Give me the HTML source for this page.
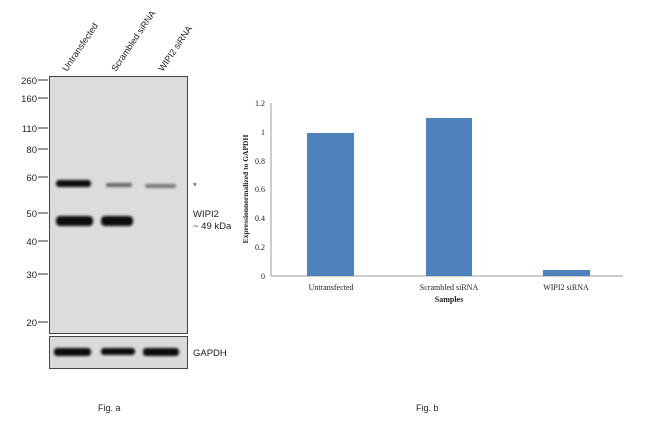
<!DOCTYPE html>
<html><head><style>body{margin:0;background:#fff}svg{display:block}</style></head><body>
<svg width="650" height="442" viewBox="0 0 650 442" xmlns="http://www.w3.org/2000/svg">
<defs>
<filter id="b" x="-20%" y="-100%" width="140%" height="300%"><feGaussianBlur stdDeviation="1.3"/></filter>
</defs>
<g font-family="Liberation Sans, sans-serif" font-size="9.5" fill="#222">
<rect x="49.5" y="76.5" width="138" height="257" fill="#dcdcdc" stroke="#444" stroke-width="1"/>
<rect x="49.5" y="336.5" width="138" height="32" fill="#dadada" stroke="#444" stroke-width="1"/>
<g fill="#111" filter="url(#b)">
<rect x="56" y="180" width="35" height="7" rx="3"/>
<rect x="106" y="183" width="26" height="4" rx="2" fill="#666"/>
<rect x="145" y="184" width="31" height="4" rx="2" fill="#777"/>
<rect x="56" y="216" width="37" height="10" rx="4"/>
<rect x="101" y="216" width="32" height="10" rx="4"/>
<rect x="54" y="348" width="37" height="8" rx="3"/>
<rect x="101" y="348" width="34" height="7" rx="3"/>
<rect x="143" y="348" width="36" height="8" rx="3"/>
</g>
<g text-anchor="end">
<text x="37" y="84">260</text><text x="37" y="102">160</text><text x="37" y="132">110</text>
<text x="37" y="153">80</text><text x="37" y="181">60</text><text x="37" y="217">50</text>
<text x="37" y="245">40</text><text x="37" y="278">30</text><text x="37" y="326">20</text>
</g>
<g stroke="#333" stroke-width="1">
<line x1="38" y1="80" x2="48" y2="80"/><line x1="38" y1="98" x2="48" y2="98"/><line x1="38" y1="128" x2="48" y2="128"/>
<line x1="38" y1="149" x2="48" y2="149"/><line x1="38" y1="177" x2="48" y2="177"/><line x1="38" y1="213" x2="48" y2="213"/>
<line x1="38" y1="241" x2="48" y2="241"/><line x1="38" y1="274" x2="48" y2="274"/><line x1="38" y1="322" x2="48" y2="322"/>
</g>
<text transform="translate(67,72) rotate(-56)" font-size="9">Untransfected</text>
<text transform="translate(116,72) rotate(-56)" font-size="9">Scrambled siRNA</text>
<text transform="translate(163,72) rotate(-56)" font-size="9">WIPI2 siRNA</text>
<text x="193" y="189">*</text>
<text x="193" y="217">WIPI2</text>
<text x="193" y="229">~ 49 kDa</text>
<text x="193" y="356">GAPDH</text>
<text x="98" y="411" font-size="9">Fig. a</text>
<text x="416" y="411" font-size="9">Fig. b</text>
</g>
<g font-family="Liberation Serif, serif" font-size="8" fill="#222">
<line x1="271" y1="103" x2="271" y2="276" stroke="#999"/>
<line x1="271" y1="276" x2="623" y2="276" stroke="#999"/>
<g text-anchor="end">
<text x="265" y="279">0</text><text x="265" y="250">0.2</text><text x="265" y="221">0.4</text>
<text x="265" y="192">0.6</text><text x="265" y="164">0.8</text><text x="265" y="135">1</text><text x="265" y="106">1.2</text>
</g>
<rect x="307" y="133" width="47" height="143" fill="#4f81bd"/>
<rect x="426" y="118" width="46" height="158" fill="#4f81bd"/>
<rect x="543" y="270" width="47" height="6" fill="#4f81bd"/>
<g text-anchor="middle">
<text x="331" y="290">Untransfected</text>
<text x="449" y="290">Scrambled siRNA</text>
<text x="566" y="290">WIPI2 siRNA</text>
<text x="449" y="302" font-weight="bold">Samples</text>
<text transform="translate(248,189) rotate(-90)" font-weight="bold" font-size="7.5">Expressionnormalized to GAPDH</text>
</g>
</g>
</svg>
</body></html>
